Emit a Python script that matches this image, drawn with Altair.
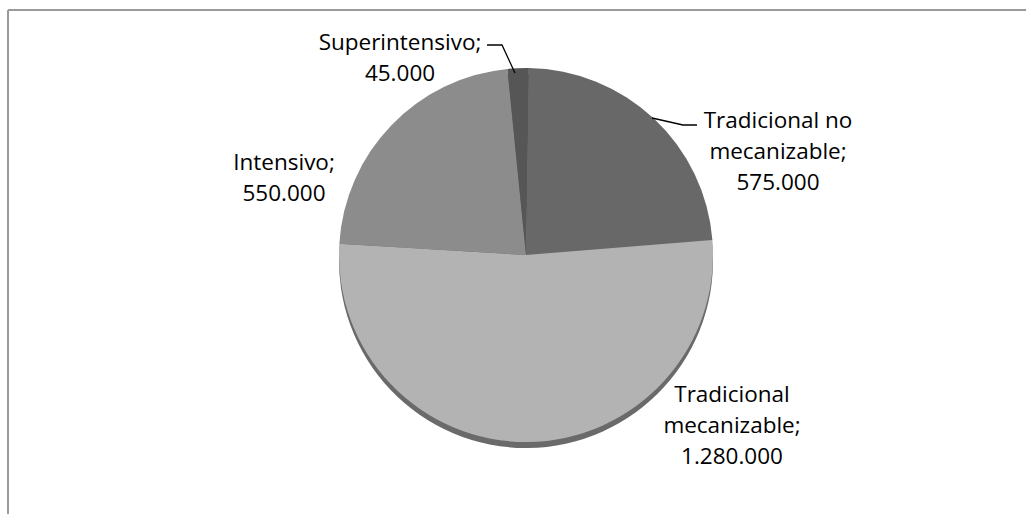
import math
import altair as alt
import pandas as pd

# ---- data ----
categories = ["Tradicional no mecanizable", "Tradicional mecanizable", "Intensivo", "Superintensivo"]
values = [575000, 1280000, 550000, 45000]
label_texts = [
    "Tradicional no\nmecanizable;\n575.000",
    "Tradicional\nmecanizable;\n1.280.000",
    "Intensivo;\n550.000",
    "Superintensivo;\n45.000",
]
colors = ["#686868", "#b3b3b3", "#8c8c8c", "#565656"]

# ---- layout (pixels) ----
W, H = 1026, 514
CX, CY, R = 526, 255, 187
start = math.radians(0.9)
label_x = [778, 732, 284, 400]
label_y = [128, 402, 170, 50]
FONT = "Open Sans"

pie_df = pd.DataFrame({"cat": categories, "value": values, "ord": list(range(len(values)))})
lab_df = pd.DataFrame({"text": label_texts, "lx": label_x, "ly": label_y})

leader_df = pd.DataFrame({
    "g": ["s", "s", "s", "t", "t", "t"],
    "i": [0, 1, 2, 0, 1, 2],
    "px": [487, 502, 515, 697, 683, 652],
    "py": [45, 45, 73, 125, 125, 118],
})

theta_scale = alt.Scale(range=[start, start + 2 * math.pi])

base = alt.Chart(pie_df)

shadow = base.mark_arc(radius=R, stroke=None).encode(
    theta=alt.Theta("value:Q", stack=True, scale=theta_scale),
    order=alt.Order("ord:Q"),
    color=alt.value("#6a6a6a"),
    x=alt.value(CX),
    y=alt.value(CY + 6),
)

pie = base.mark_arc(radius=R, stroke=None).encode(
    theta=alt.Theta("value:Q", stack=True, scale=theta_scale),
    order=alt.Order("ord:Q"),
    color=alt.Color("cat:N", scale=alt.Scale(domain=categories, range=colors), legend=None),
    x=alt.value(CX),
    y=alt.value(CY),
)

leaders = alt.Chart(leader_df).mark_line(color="#000000", strokeWidth=1.3).encode(
    x=alt.X("px:Q", scale=None, axis=None),
    y=alt.Y("py:Q", scale=None, axis=None),
    detail="g:N",
    order="i:Q",
)

labels = alt.Chart(lab_df).mark_text(
    font=FONT, fontSize=22.5, align="center", baseline="alphabetic",
    lineBreak="\n", lineHeight=31, color="#000000",
).encode(
    x=alt.X("lx:Q", scale=None, axis=None),
    y=alt.Y("ly:Q", scale=None, axis=None),
    text="text:N",
)

frame_top = alt.Chart(pie_df).mark_rule(color="#9a9a9a", strokeWidth=2).encode(
    x=alt.value(8), x2=alt.value(W), y=alt.value(10)
)
frame_left = alt.Chart(pie_df).mark_rule(color="#9a9a9a", strokeWidth=2).encode(
    x=alt.value(8), y=alt.value(10), y2=alt.value(H)
)

chart = alt.layer(frame_top, frame_left, shadow, pie, leaders, labels).properties(
    width=W, height=H, padding=0, autosize=alt.AutoSizeParams(type="none"),
    background="white",
).configure_view(stroke=None)

chart.save("out.html", embed_options={"renderer": "svg", "actions": False})
